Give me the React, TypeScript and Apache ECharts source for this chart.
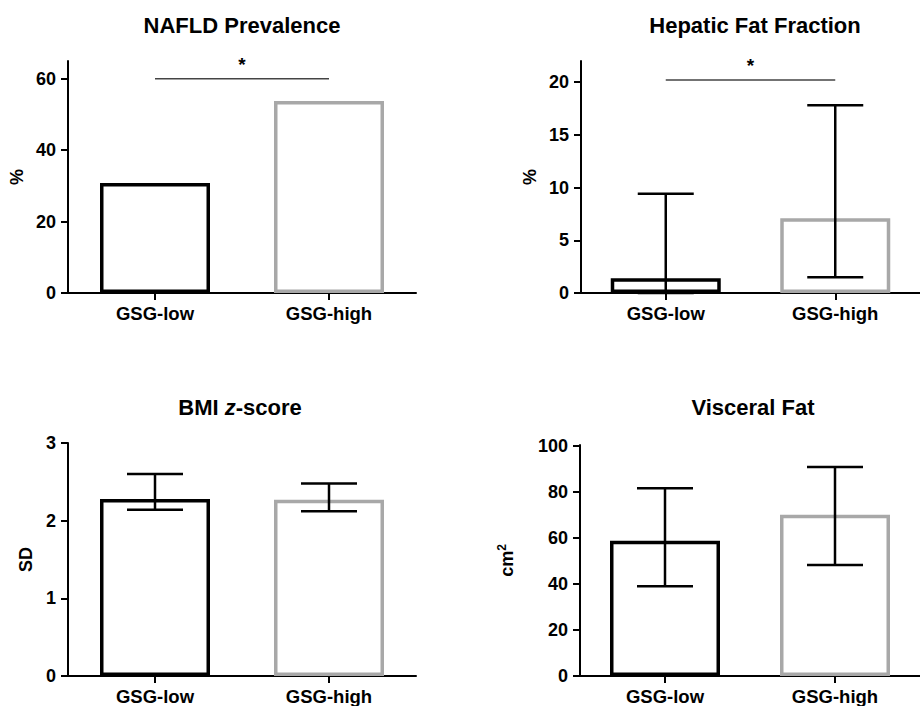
import React, { useEffect, useRef } from 'react';
import * as echarts from 'echarts';

const categories = ['GSG-low', 'GSG-high'];

const naflValues = [30.8, 53.8];
const naflTicks = [0, 20, 40, 60];
const naflSig = [60];

const hffValues = [1.4, 7.1];
const hffLower = [0, 1.5];
const hffUpper = [9.4, 17.8];
const hffTicks = [0, 5, 10, 15, 20];
const hffSig = [20.2];

const bmiValues = [2.28, 2.27];
const bmiLower = [2.14, 2.12];
const bmiUpper = [2.6, 2.48];
const bmiTicks = [0, 1, 2, 3];

const vfValues = [58.8, 70.1];
const vfLower = [39.1, 48.3];
const vfUpper = [81.7, 90.9];
const vfTicks = [0, 20, 40, 60, 80, 100];

const FONT = "'Liberation Sans', Arial, Helvetica, sans-serif";
const barColors = ['#000000', '#a8a8a8'];

export default function App() {
  const ref = useRef<HTMLDivElement>(null);

  useEffect(() => {
    if (!ref.current) return;
    const chart = echarts.init(ref.current, undefined, { renderer: 'svg' });

    const grids = [
      { left: 68, right: 504, top: 61, bottom: 413 },
      { left: 581, right: -11, top: 61, bottom: 413 },
      { left: 68, right: 504, top: 443, bottom: 30 },
      { left: 580, right: -11, top: 445, bottom: 30 },
    ];

    const xAxes = grids.map((_, i) => ({
      type: 'category',
      gridIndex: i,
      data: categories,
      boundaryGap: true,
      axisLine: { show: true, lineStyle: { color: '#000', width: 2 } },
      axisTick: { show: true, alignWithLabel: true, length: 7, lineStyle: { color: '#000', width: 2 } },
      axisLabel: { color: '#000', fontFamily: FONT, fontWeight: 'bold', fontSize: 18.5, margin: 11 },
      splitLine: { show: false },
    }));

    const yDefs = [
      { max: 65, ticks: naflTicks, name: '%', gap: 42 },
      { max: 22, ticks: hffTicks, name: '%', gap: 42 },
      { max: 3, ticks: bmiTicks, name: 'SD', gap: 33 },
      { max: 100.5, ticks: vfTicks, name: 'cm{sup|2}', gap: 62 },
    ];

    const yAxes = yDefs.map((d, i) => ({
      type: 'value',
      gridIndex: i,
      min: 0,
      max: d.max,
      name: d.name,
      nameLocation: 'middle',
      nameGap: d.gap,
      nameRotate: 90,
      nameTextStyle: {
        color: '#000',
        fontFamily: FONT,
        fontWeight: 'bold',
        fontSize: 18,
        rich: {
          sup: { fontFamily: FONT, fontWeight: 'bold', fontSize: 12, verticalAlign: 'top', padding: [0, 0, 10, 0], color: '#000' },
        },
      },
      axisLine: { show: true, lineStyle: { color: '#000', width: 2 } },
      axisTick: { show: true, length: 7, lineStyle: { color: '#000', width: 2 }, customValues: d.ticks },
      axisLabel: { color: '#000', fontFamily: FONT, fontWeight: 'bold', fontSize: 18, margin: 12, customValues: d.ticks },
      splitLine: { show: false },
    }));

    const barSeries = (idx: number, values: number[]) => ({
      type: 'bar',
      xAxisIndex: idx,
      yAxisIndex: idx,
      barWidth: 110,
      data: values.map((v, j) => ({
        value: v,
        itemStyle: { color: '#ffffff', borderColor: barColors[j], borderWidth: 3.5 },
      })),
      z: 2,
    });

    const errSeries = (idx: number, lower: number[], upper: number[]) => ({
      type: 'custom',
      xAxisIndex: idx,
      yAxisIndex: idx,
      z: 5,
      clip: false,
      encode: { x: 0, y: [1, 2] },
      data: lower.map((lo, j) => [j, lo, upper[j]]),
      renderItem: (params: any, api: any) => {
        const x = api.value(0);
        const pLo = api.coord([x, api.value(1)]);
        const pHi = api.coord([x, api.value(2)]);
        const hw = 28;
        const st = { stroke: '#000', lineWidth: 2.5 };
        return {
          type: 'group',
          children: [
            { type: 'line', shape: { x1: pLo[0], y1: pLo[1], x2: pHi[0], y2: pHi[1] }, style: st },
            { type: 'line', shape: { x1: pHi[0] - hw, y1: pHi[1], x2: pHi[0] + hw, y2: pHi[1] }, style: st },
            { type: 'line', shape: { x1: pLo[0] - hw, y1: pLo[1], x2: pLo[0] + hw, y2: pLo[1] }, style: st },
          ],
        };
      },
    });

    const sigSeries = (idx: number, level: number[]) => ({
      type: 'custom',
      xAxisIndex: idx,
      yAxisIndex: idx,
      z: 5,
      clip: false,
      data: level.map((y) => [0, y]),
      renderItem: (params: any, api: any) => {
        const y = api.value(1);
        const p0 = api.coord([0, y]);
        const p1 = api.coord([1, y]);
        return {
          type: 'group',
          children: [
            { type: 'line', shape: { x1: p0[0], y1: p0[1], x2: p1[0], y2: p1[1] }, style: { stroke: '#444', lineWidth: 1.5 } },
            {
              type: 'text',
              x: (p0[0] + p1[0]) / 2,
              y: p0[1] - 14,
              style: { text: '*', fill: '#000', font: `bold 19px ${FONT}`, textAlign: 'center', textVerticalAlign: 'middle' },
            },
          ],
        };
      },
    });

    const titleStyle = (text: string, x: number, y: number) => ({
      type: 'text',
      x,
      y,
      style: {
        text,
        fill: '#000',
        font: `bold 22px ${FONT}`,
        textAlign: 'center',
        textVerticalAlign: 'middle',
        rich: {
          b: { fontFamily: FONT, fontWeight: 'bold', fontSize: 22, fill: '#000' },
          i: { fontFamily: FONT, fontWeight: 'bold', fontStyle: 'italic', fontSize: 22, fill: '#000' },
        },
      },
    });

    chart.setOption({
      animation: false,
      backgroundColor: '#ffffff',
      grid: grids,
      xAxis: xAxes,
      yAxis: yAxes,
      series: [
        barSeries(0, naflValues),
        sigSeries(0, naflSig),
        barSeries(1, hffValues),
        errSeries(1, hffLower, hffUpper),
        sigSeries(1, hffSig),
        barSeries(2, bmiValues),
        errSeries(2, bmiLower, bmiUpper),
        barSeries(3, vfValues),
        errSeries(3, vfLower, vfUpper),
      ],
      graphic: [
        titleStyle('NAFLD Prevalence', 242, 25),
        titleStyle('Hepatic Fat Fraction', 755, 25),
        titleStyle('{b|BMI }{i|z}{b|-score}', 240, 407),
        titleStyle('Visceral Fat', 753, 407),
      ],
    });

    return () => chart.dispose();
  }, []);

  return (
    <div
      ref={ref}
      style={{ position: 'fixed', left: 0, top: 0, width: 920, height: 706, background: '#fff' }}
    />
  );
}
